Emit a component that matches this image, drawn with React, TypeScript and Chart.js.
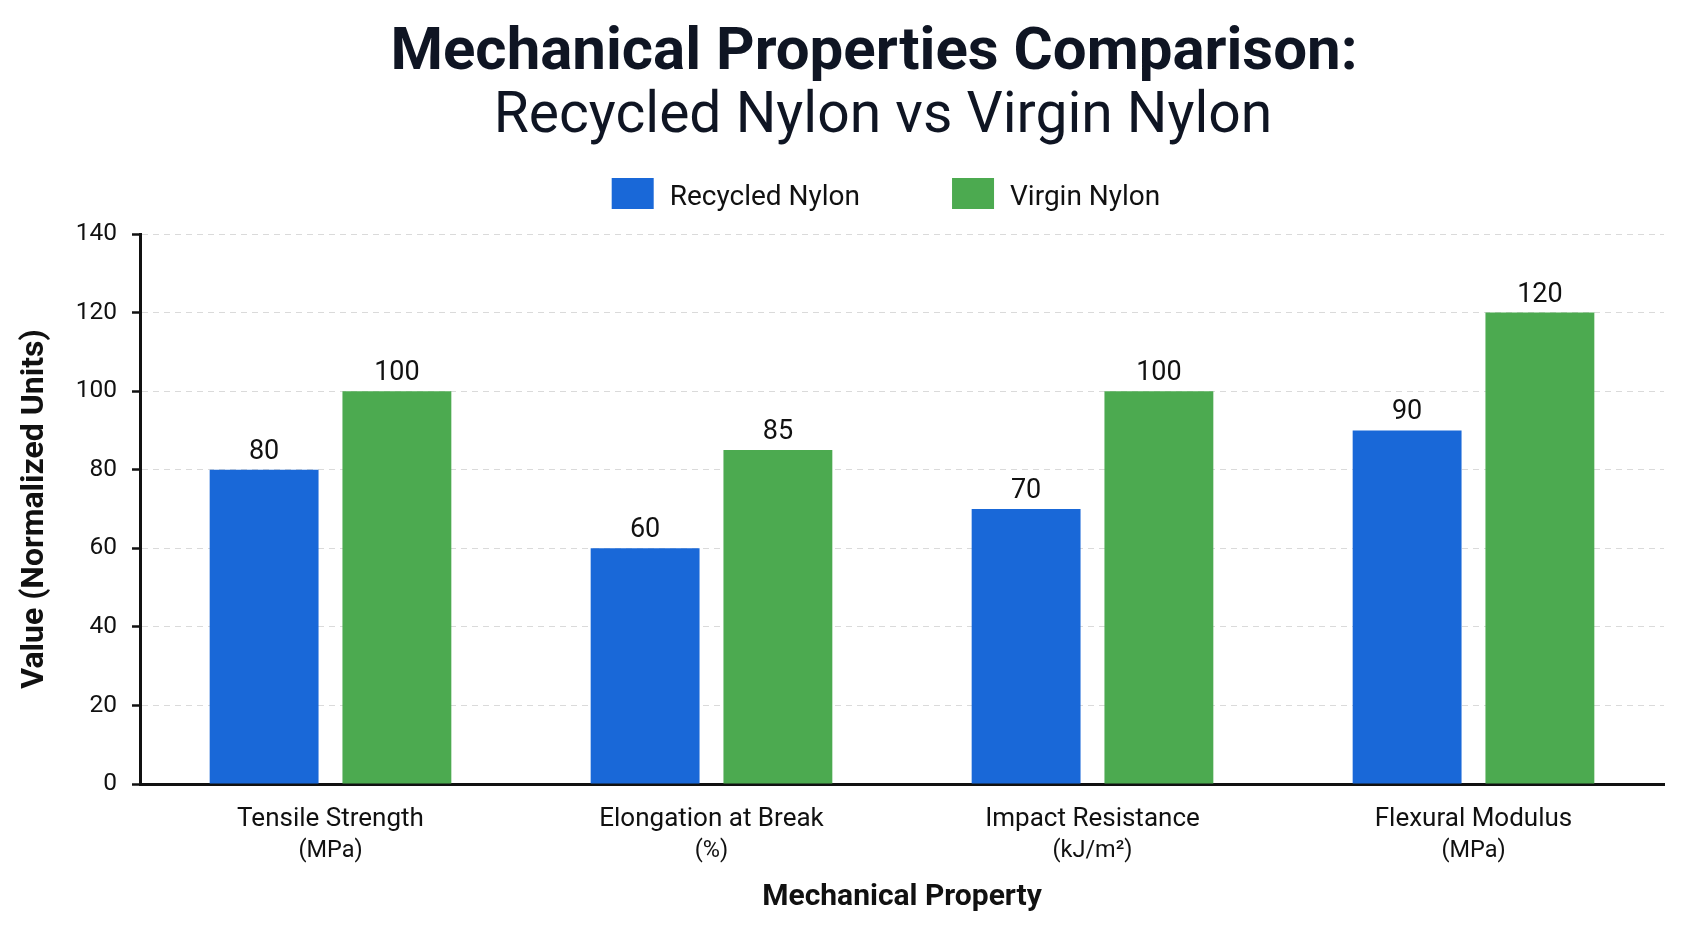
import React, { useEffect, useRef } from "react";
import { Chart, registerables } from "chart.js";

Chart.register(...registerables);

// Property names with their units on a second line
const categories: string[] = [
  "Tensile Strength",
  "Elongation at Break",
  "Impact Resistance",
  "Flexural Modulus",
];
const units: string[] = ["(MPa)", "(%)", "(kJ/m²)", "(MPa)"];
const seriesNames = ["Recycled Nylon", "Virgin Nylon"];
const recycledValues = [80, 60, 70, 90];
const virginValues = [100, 85, 100, 120];
const yMin = 0;
const yMax = 140;
const yStep = 20;

const titleText = "Mechanical Properties Comparison:";
const subtitleText = "Recycled Nylon vs Virgin Nylon";
const xAxisTitle = "Mechanical Property";
const yAxisTitle = "Value (Normalized Units)";

const FONT = "Roboto, 'Noto Sans', 'DejaVu Sans', sans-serif";
const BLUE = "#1968D8";
const GREEN = "#4CAA50";
const INK = "#111111";
const TITLE_INK = "#0F1523";

// Title, subtitle and legend drawn above the plot
const headerPlugin = {
  id: "header",
  afterDraw(chart: any) {
    const { ctx, chartArea } = chart;
    const cx = (chartArea.left + chartArea.right) / 2 - 16;
    ctx.save();
    ctx.textAlign = "center";
    ctx.textBaseline = "alphabetic";
    ctx.fillStyle = TITLE_INK;
    ctx.font = `bold 60px ${FONT}`;
    ctx.fillText(titleText, cx - 12, 61);
    ctx.font = `normal 57px ${FONT}`;
    ctx.fillText(subtitleText, cx - 3, 124);

    // legend
    const colors = [BLUE, GREEN];
    const boxW = 42;
    const boxH = 31;
    const gap = 16;
    const itemGap = 92;
    ctx.font = `normal 28px ${FONT}`;
    const widths = seriesNames.map((n) => ctx.measureText(n).width);
    const total =
      widths.reduce((a, w) => a + boxW + gap + w, 0) + itemGap * (seriesNames.length - 1);
    let x = cx - total / 2;
    ctx.textAlign = "left";
    seriesNames.forEach((name, i) => {
      ctx.fillStyle = colors[i];
      ctx.fillRect(x, 170, boxW, boxH);
      ctx.fillStyle = INK;
      ctx.fillText(name, x + boxW + gap, 197);
      x += boxW + gap + widths[i] + itemGap;
    });
    ctx.restore();
  },
};

// Two-line category labels: property name, then its unit in a smaller size
const categoryLabelPlugin = {
  id: "categoryLabels",
  afterDraw(chart: any) {
    const { ctx } = chart;
    const xScale = chart.scales.x;
    const top = xScale.top;
    ctx.save();
    ctx.fillStyle = INK;
    ctx.textAlign = "center";
    ctx.textBaseline = "middle";
    categories.forEach((name, i) => {
      const x = xScale.getPixelForTick(i);
      ctx.font = `normal 26px ${FONT}`;
      ctx.fillText(name, x, top + 35);
      ctx.font = `normal 23.5px ${FONT}`;
      ctx.fillText(units[i], x, top + 67);
    });
    ctx.restore();
  },
};

// Value printed above each bar
const valueLabelPlugin = {
  id: "valueLabels",
  afterDatasetsDraw(chart: any) {
    const { ctx } = chart;
    ctx.save();
    ctx.font = `normal 27px ${FONT}`;
    ctx.fillStyle = INK;
    ctx.textAlign = "center";
    ctx.textBaseline = "alphabetic";
    chart.data.datasets.forEach((ds: any, di: number) => {
      const meta = chart.getDatasetMeta(di);
      meta.data.forEach((bar: any, i: number) => {
        ctx.fillText(String(ds.data[i]), bar.x, bar.y - 11);
      });
    });
    ctx.restore();
  },
};

export default function App() {
  const canvasRef = useRef<HTMLCanvasElement | null>(null);

  useEffect(() => {
    if (!canvasRef.current) return;
    const chart = new Chart(canvasRef.current, {
      type: "bar",
      data: {
        labels: categories,
        datasets: [
          {
            label: seriesNames[0],
            data: recycledValues,
            backgroundColor: BLUE,
            categoryPercentage: 0.697,
            barPercentage: 0.82,
          },
          {
            label: seriesNames[1],
            data: virginValues,
            backgroundColor: GREEN,
            categoryPercentage: 0.697,
            barPercentage: 0.82,
          },
        ],
      },
      options: {
        animation: false,
        responsive: true,
        maintainAspectRatio: false,
        layout: { padding: { top: 226, right: 21, bottom: 6, left: 0 } },
        plugins: {
          legend: { display: false },
          title: { display: false },
          tooltip: { enabled: false },
        },
        scales: {
          x: {
            grid: { display: false, drawTicks: false },
            border: { display: true, color: INK, width: 3 },
            ticks: { display: false },
            title: {
              display: true,
              text: xAxisTitle,
              color: INK,
              font: { family: FONT, size: 30, weight: "bold", lineHeight: 1.2 },
              padding: { top: 11, bottom: 0 },
            },
            afterFit(scale: any) {
              scale.height = 131;
            },
          },
          y: {
            min: yMin,
            max: yMax,
            grid: {
              color: "#DADADA",
              lineWidth: 1,
              drawTicks: true,
              tickLength: 8,
              tickColor: INK,
              tickWidth: 2.5,
            },
            border: { display: true, color: INK, width: 3, dash: [6, 5] },
            ticks: {
              stepSize: yStep,
              color: INK,
              padding: 15,
              font: { family: FONT, size: 24.5 },
            },
            title: {
              display: true,
              text: yAxisTitle,
              color: INK,
              font: { family: FONT, size: 32, weight: "bold", lineHeight: 1.2 },
              padding: { top: 8, bottom: 0 },
            },
            afterFit(scale: any) {
              scale.width = 132;
            },
          },
        },
      },
      plugins: [headerPlugin, categoryLabelPlugin, valueLabelPlugin],
    });
    return () => chart.destroy();
  }, []);

  return (
    <div style={{ width: 1677, height: 913, position: "relative" }}>
      <canvas ref={canvasRef} />
    </div>
  );
}
